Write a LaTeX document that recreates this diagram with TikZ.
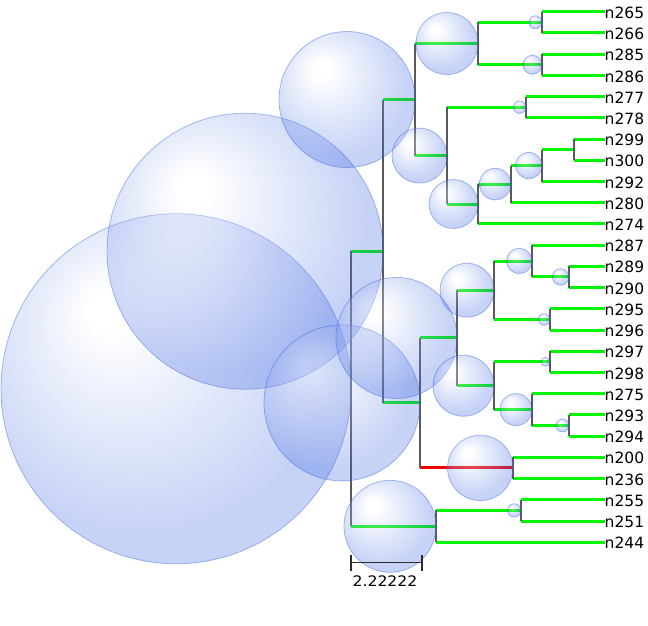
\documentclass[tikz,border=0pt]{standalone}
\usepackage{fontspec}
\setmainfont{DejaVu Sans}
\definecolor{royalblue}{RGB}{65,105,225}
\definecolor{branchgreen}{RGB}{0,245,0}
\definecolor{branchred}{RGB}{240,0,0}
\definecolor{stemgray}{RGB}{90,90,90}
\definecolor{bargray}{RGB}{45,45,45}
% soft sphere: white highlight up-left, fading to royal blue
\pgfdeclareradialshading{bubble}{\pgfpoint{-10bp}{12bp}}{%
  color(0bp)=(white); color(3bp)=(white); color(27bp)=(royalblue); color(50bp)=(royalblue)}

\begin{document}
\begin{tikzpicture}[x=1pt,y=-1pt,
  branch/.style={draw=branchgreen,line width=3pt},
  redbranch/.style={draw=branchred,line width=3pt},
  stem/.style={draw=stemgray,line width=1.4pt},
  sphere/.style={circle,inner sep=0pt,shade,shading=bubble,fill opacity=0.3,
    draw=royalblue,draw opacity=0.45,line width=0.8pt},
  leaflabel/.style={anchor=west,inner sep=0pt,font=\fontsize{15.5}{16}\selectfont},
  scalebar/.style={draw=bargray,line width=1.5pt},
]
\useasboundingbox (0,0) rectangle (648,625);

% leaves: branch end points and their names
\foreach \n/\y in {265/11.7, 266/32.9, 285/54.1, 286/75.4, 277/96.6, 278/117.8,
    299/139.0, 300/160.2, 292/181.5, 280/202.7, 274/223.9, 287/245.1, 289/266.3,
    290/287.6, 295/308.8, 296/330.0, 297/351.2, 298/372.4, 275/393.7, 293/414.9,
    294/436.1, 200/457.3, 236/478.5, 255/499.8, 251/521.0, 244/542.2} {
  \coordinate (l\n) at (605,\y);
  \node[leaflabel] (n\n) at (604.5,\y+1) {n\n};
}

% internal nodes
\coordinate (p1) at (542,22.3);
\coordinate (p2) at (542,64.75);
\coordinate (a) at (478,43.5);
\coordinate (p3) at (526,107.2);
\coordinate (p4) at (574,149.6);
\coordinate (p5) at (542,165.55);
\coordinate (p6) at (511,184.1);
\coordinate (p7) at (478,204.0);
\coordinate (c) at (447,155.6);
\coordinate (b) at (415,99.55);
\coordinate (q1) at (569,276.95);
\coordinate (q2) at (532,261.0);
\coordinate (q3) at (550,319.4);
\coordinate (g) at (494,290.2);
\coordinate (q4) at (550,361.8);
\coordinate (q5) at (569,425.5);
\coordinate (q6) at (532,409.6);
\coordinate (h) at (494,385.7);
\coordinate (f) at (457,337.95);
\coordinate (r) at (513,467.9);
\coordinate (e) at (420,402.9);
\coordinate (d) at (383,251.2);
\coordinate (s1) at (521,510.4);
\coordinate (s2) at (436,526.3);
\coordinate (root) at (351,388.75);

% horizontal branches, child/parent
\foreach \ch/\pa in {l265/p1, l266/p1, l285/p2, l286/p2, p1/a, p2/a, a/b,
    l277/p3, l278/p3, l299/p4, l300/p4, p4/p5, l292/p5, p5/p6, l280/p6, p6/p7,
    l274/p7, p3/c, p7/c, c/b, b/d, l287/q2, l289/q1, l290/q1, q1/q2, q2/g,
    l295/q3, l296/q3, q3/g, g/f, l297/q4, l298/q4, q4/h, l275/q6, l293/q5,
    l294/q5, q5/q6, q6/h, h/f, f/e, l200/r, l236/r, e/d, d/root, l255/s1,
    l251/s1, s1/s2, l244/s2, s2/root}
  \draw[branch] (\pa |- \ch) -- (\ch);
\draw[redbranch] (e |- r) -- (r);

% vertical stems, node/first child/last child
\foreach \nd/\fc/\lc in {p1/l265/l266, p2/l285/l286, a/p1/p2, p3/l277/l278,
    p4/l299/l300, p5/p4/l292, p6/p5/l280, p7/p6/l274, c/p3/p7, b/a/c,
    q1/l289/l290, q2/l287/q1, q3/l295/l296, g/q2/q3, q4/l297/l298,
    q5/l293/l294, q6/l275/q5, h/q4/q6, f/g/h, r/l200/l236, e/f/r, d/b/e,
    s1/l255/l251, s2/s1/l244, root/d/s2}
  \draw[stem] (\nd |- \fc) -- (\nd |- \lc);

% spheres sized by node, right edge on the node
\foreach \nd/\rad in {root/175, d/138, e/78, b/68, f/60.5, s2/46, r/32.7, a/31,
    h/30.5, c/27.5, g/27, p7/24.5, q6/16, p6/15.8, p5/13.2, q2/12.7, p2/9.5,
    q1/8.3, s1/6.7, p1/6.5, q5/6.5, p3/6.3, q3/5.8, q4/4.5}
  \node[sphere,minimum size={2*\rad pt}] (bub\nd) at ([xshift=-\rad pt]\nd) {};

% scale bar
\coordinate (sb0) at (351,562.5);
\coordinate (sb1) at (422,562.5);
\draw[scalebar] (sb0) -- (sb1);
\draw[scalebar] ([yshift=-8pt]sb0) -- ([yshift=8pt]sb0);
\draw[scalebar] ([yshift=-8pt]sb1) -- ([yshift=8pt]sb1);
\node[inner sep=0pt,font=\fontsize{14.5}{15}\selectfont] (sblabel) at (385,581)
  {\scalebox{1.08}[1]{2.22222}};
\end{tikzpicture}
\end{document}
